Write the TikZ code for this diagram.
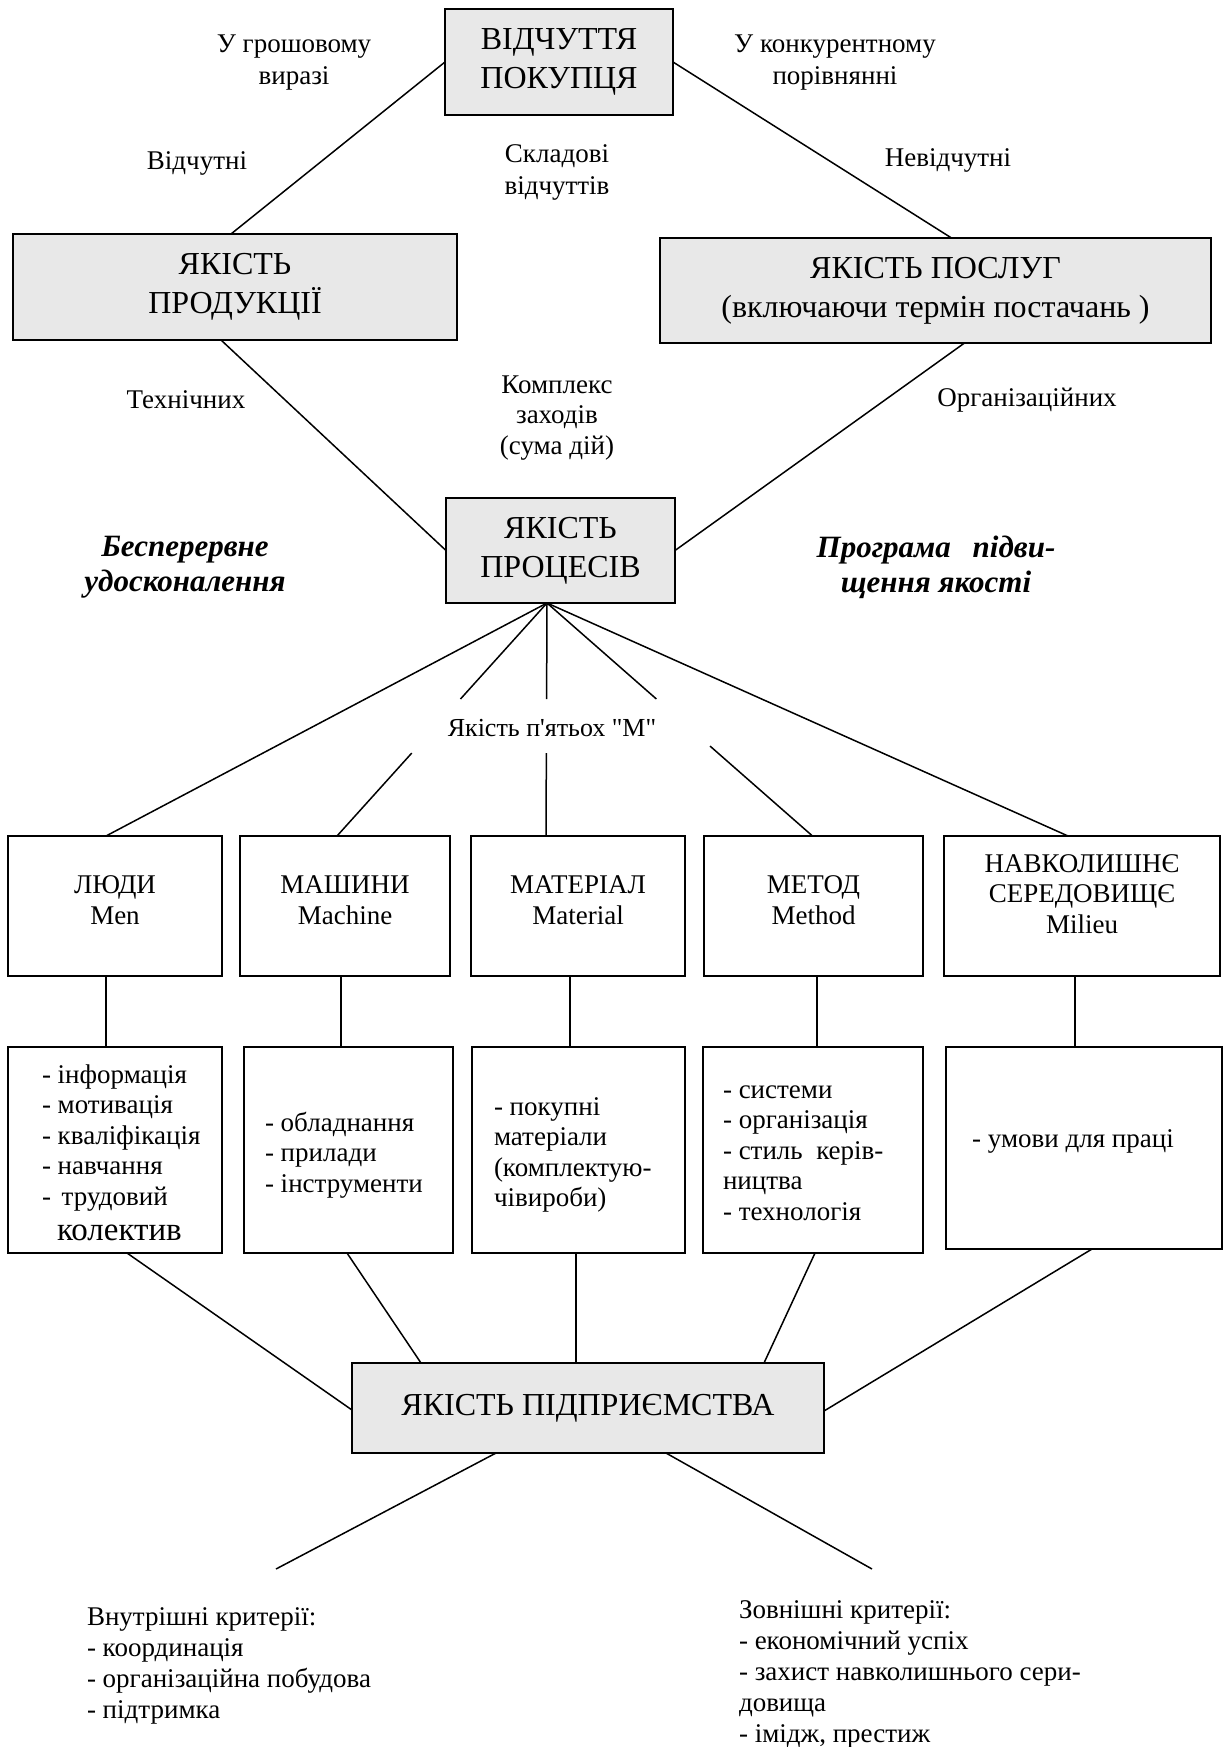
\documentclass[tikz,border=0pt]{standalone}
\usepackage{fontspec}
\newfontfamily\tnr{Liberation Serif}
\usetikzlibrary{calc}
\definecolor{boxgray}{RGB}{232,232,232}
\begin{document}
\begin{tikzpicture}[x=1pt,y=-1pt,
  every node/.style={font=\tnr\fontsize{27}{30.5}\selectfont, inner sep=0pt, outer sep=0pt},
  conn/.style={line width=1.5pt},
  graybox/.style={draw, line width=2pt, fill=boxgray, align=center, font=\tnr\fontsize{32}{39}\selectfont},
  whitebox/.style={draw, line width=2pt, fill=white},
  lbl/.style={align=center, font=\tnr\fontsize{27}{32}\selectfont},
  mtext/.style={align=center},
  listline/.style={anchor=base west},
  slogan/.style={align=center, font=\tnr\bfseries\itshape\fontsize{31}{35}\selectfont}
]
\fill[white] (0,0) rectangle (1223,1747);
\useasboundingbox (0,0) rectangle (1223,1747);

% main shaded boxes
\node[graybox, minimum width=228, minimum height=106] (vp) at (559,62) {ВІДЧУТТЯ\\ПОКУПЦЯ};
\node[graybox, minimum width=444, minimum height=106] (prod) at (235,287) {ЯКІСТЬ\\ПРОДУКЦІЇ};
\node[graybox, minimum width=551, minimum height=105] (posl) at (935.5,290.5) {ЯКІСТЬ ПОСЛУГ\\(включаючи термін постачань )};
\node[graybox, minimum width=229, minimum height=105] (proc) at (560.5,550.5) {ЯКІСТЬ\\ПРОЦЕСІВ};
\node[graybox, minimum width=472, minimum height=90] (yp) at (588,1408) {ЯКІСТЬ ПІДПРИЄМСТВА};

% the five "M" boxes and their captions
\node[whitebox, minimum width=214, minimum height=140] (m1) at (115,906) {};
\node[whitebox, minimum width=210, minimum height=140] (m2) at (345,906) {};
\node[whitebox, minimum width=214, minimum height=140] (m3) at (578,906) {};
\node[whitebox, minimum width=219, minimum height=140] (m4) at (813.5,906) {};
\node[whitebox, minimum width=276, minimum height=140] (m5) at (1082,906) {};
\node[mtext] (m1t) at (115,900) {ЛЮДИ\\Men};
\node[mtext] (m2t) at (345,900) {МАШИНИ\\Machine};
\node[mtext] (m3t) at (578,900) {МАТЕРІАЛ\\Material};
\node[mtext] (m4t) at (813.5,900) {МЕТОД\\Method};
\node[mtext] (m5t) at (1082,894) {НАВКОЛИШНЄ\\СЕРЕДОВИЩЄ\\Milieu};

% list boxes
\node[whitebox, minimum width=214, minimum height=206] (l1) at (115,1150) {};
\node[whitebox, minimum width=209, minimum height=206] (l2) at (348.5,1150) {};
\node[whitebox, minimum width=213, minimum height=206] (l3) at (578.5,1150) {};
\node[whitebox, minimum width=220, minimum height=206] (l4) at (813,1150) {};
\node[whitebox, minimum width=276, minimum height=202] (l5) at (1084,1148) {};

\foreach \t [count=\i] in {- інформація, - мотивація, - кваліфікація, - навчання, -\kern4pt\ трудовий}
  \node[listline] (l1t\i) at (42,{1083+30.5*(\i-1)}) {\t};
\node[listline, font=\tnr\fontsize{33}{38}\selectfont] (l1t6) at (57,1240) {колектив};
\foreach \t [count=\i] in {- обладнання, - прилади, - інструменти}
  \node[listline] (l2t\i) at (265,{1131+30.5*(\i-1)}) {\t};
\foreach \t [count=\i] in {{- покупні}, {матеріали}, {(комплектую-}, {чівироби)}}
  \node[listline] (l3t\i) at (494,{1115+30.5*(\i-1)}) {\t};
\foreach \t [count=\i] in {- системи, - організація, - стиль\ \ керів-, ництва, - технологія}
  \node[listline] (l4t\i) at (723,{1098+30.5*(\i-1)}) {\t};
\node[anchor=base] (l5t1) at (1073,1147) {- умови для праці};

% labels
\node[lbl] (lab1) at (294,63) {У грошовому\\виразі};
\node[lbl] (lab2) at (835,63) {У конкурентному\\порівнянні};
\node (lab3) at (197,163) {Відчутні};
\node[lbl] (lab4) at (557,172) {Складові\\відчуттів};
\node (lab5) at (948,160) {Невідчутні};
\node (lab6) at (186,400) {Технічних};
\node[mtext] (lab7) at (557,418) {Комплекс\\заходів\\(сума дій)};
\node (lab8) at (1027,400) {Організаційних};
\node[slogan] (lab9) at (185,567) {Бесперервне\\удосконалення};
\node[slogan] (lab10) at (936,567) {Програма\hspace{14pt} підви-\\щення якості};
\node[font=\tnr\fontsize{26}{30}\selectfont] (lab11) at (552,728) {Якість п'ятьох "М"};

% criteria lists at the bottom
\foreach \t [count=\i] in {Внутрішні критерії:, - координація, - організаційна побудова, - підтримка}
  \node[listline] (in\i) at (87,{1625+31*(\i-1)}) {\t};
\foreach \t [count=\i] in {Зовнішні критерії:, - економічний успіх, - захист навколишнього сери-, довища, {- імідж, престиж}}
  \node[listline] (ex\i) at (739,{1618+31*(\i-1)}) {\t};

% connectors: upper diamond
\draw[conn] (vp.west) -- ([xshift=-4pt]prod.north);
\draw[conn] (vp.east) -- ([xshift=16pt]posl.north);
\draw[conn] ([xshift=-14pt]prod.south) -- (proc.west);
\draw[conn] ([xshift=29pt]posl.south) -- (proc.east);

% fan to the five M boxes (inner lines interrupted by the label)
\coordinate (fan) at ([xshift=-13.5pt]proc.south);
\coordinate (t1) at ([xshift=-9pt]m1.north);
\coordinate (t2) at ([xshift=-8pt]m2.north);
\coordinate (t3) at ([xshift=-32pt]m3.north);
\coordinate (t4) at ([xshift=-1pt]m4.north);
\coordinate (t5) at ([xshift=-14pt]m5.north);
\draw[conn] (fan) -- (t1);
\draw[conn] (fan) -- ($(fan)!0.412!(t2)$) ($(fan)!0.644!(t2)$) -- (t2);
\draw[conn] (fan) -- ($(fan)!0.412!(t3)$) ($(fan)!0.644!(t3)$) -- (t3);
\draw[conn] (fan) -- ($(fan)!0.412!(t4)$) ($(fan)!0.614!(t4)$) -- (t4);
\draw[conn] (fan) -- (t5);

% M boxes to their lists
\coordinate (v1) at ([xshift=-9pt]m1.south);
\coordinate (v2) at ([xshift=-4pt]m2.south);
\coordinate (v3) at ([xshift=-8pt]m3.south);
\coordinate (v4) at ([xshift=3.5pt]m4.south);
\coordinate (v5) at ([xshift=-7pt]m5.south);
\foreach \k in {1,...,5} \draw[conn] (v\k) -- (v\k |- l\k.north);

% lists to the enterprise box
\draw[conn] ([xshift=12pt]l1.south) -- ([yshift=-2pt]yp.west);
\draw[conn] ([xshift=-1.5pt]l2.south) -- ([xshift=-167pt]yp.north);
\coordinate (w3) at ([xshift=-2.5pt]l3.south);
\draw[conn] (w3) -- (w3 |- yp.north);
\draw[conn] ([xshift=2pt]l4.south) -- ([xshift=176pt]yp.north);
\draw[conn] ([xshift=8pt]l5.south) -- ([yshift=-3pt]yp.east);

% criteria branches
\coordinate (b1) at (276,1569);
\coordinate (b2) at (872,1569);
\draw[conn] ([xshift=-92pt]yp.south) -- (b1);
\draw[conn] ([xshift=78pt]yp.south) -- (b2);
\end{tikzpicture}
\end{document}
